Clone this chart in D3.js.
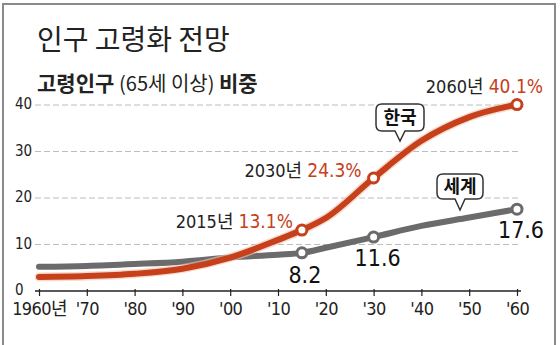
<!DOCTYPE html>
<html><head><meta charset="utf-8">
<script src="https://cdn.jsdelivr.net/npm/d3@7"></script>
<style>
body{margin:0;background:#fff;}
svg{display:block;}
text{font-family:"Liberation Sans Narrow","DejaVu Sans Condensed","Liberation Sans","Noto Sans CJK KR",sans-serif;}
</style></head>
<body>
<script>
const years = [1960,1970,1980,1990,2000,2010,2015,2020,2030,2040,2050,2060];
const korea = [3.0,3.2,3.7,4.8,7.2,11.0,13.1,15.7,24.3,32.3,37.4,40.1];
const world = [5.2,5.4,5.8,6.3,7.2,7.8,8.2,9.3,11.6,14.0,15.8,17.6];
const xTicks = [1960,1970,1980,1990,2000,2010,2020,2030,2040,2050,2060];
const xTickLabels = ["1960년","'70","'80","'90","'00","'10","'20","'30","'40","'50","'60"];
const yTicks = [0,10,20,30,40];
const markedYears = [2015,2030,2060];
const koreaLabels = [{year:2015,lab:"2015년 ",val:"13.1%"},{year:2030,lab:"2030년 ",val:"24.3%"},{year:2060,lab:"2060년 ",val:"40.1%"}];
const worldLabels = [{year:2015,val:"8.2"},{year:2030,val:"11.6"},{year:2060,val:"17.6"}];
const title = "인구 고령화 전망";

const W=560,H=345;
const RED="#c5401b", GRAY="#6b6b6e";
const NUMF="font-family:'Liberation Sans Narrow','DejaVu Sans Condensed','Liberation Sans','Noto Sans CJK KR',sans-serif;";
const svg=d3.select("body").append("svg").attr("width",W).attr("height",H);

// frame
svg.append("path").attr("d","M3,345 V4 H555 V345").attr("fill","none").attr("stroke","#8a8a8a").attr("stroke-width",2);

const x=d3.scaleLinear().domain([1960,2060]).range([39,517]);
const y=d3.scaleLinear().domain([0,40]).range([291,105]);

// title
svg.append("text").attr("x",37).attr("y",50).attr("font-size",28).attr("fill","#222").attr("style","font-family:'Noto Sans CJK KR';font-weight:400").text(title);
const st=svg.append("text").attr("x",37).attr("y",91).attr("fill","#222");
st.append("tspan").attr("style","font-family:'Noto Sans CJK KR';font-weight:700;font-size:21px").text("고령인구 ");
st.append("tspan").attr("style","font-family:'Noto Sans CJK KR';font-weight:400;font-size:20px").text("(65세 이상) ");
st.append("tspan").attr("style","font-family:'Noto Sans CJK KR';font-weight:700;font-size:21px").text("비중");

// gridlines
svg.append("g").selectAll("line").data(yTicks.filter(d=>d>0)).join("line")
  .attr("x1",35).attr("x2",521).attr("y1",d=>y(d)).attr("y2",d=>y(d))
  .attr("stroke","#bdbdbd").attr("stroke-width",1.2).attr("stroke-dasharray","6,3");
// y labels
svg.append("g").selectAll("text").data(yTicks).join("text")
  .attr("x",15).attr("y",d=>y(d)+4).attr("font-size",15).attr("fill","#222").attr("style",NUMF).text(d=>d);

// x axis
const xAxis=d3.axisBottom(x).tickValues(xTicks).tickSize(5).tickFormat((d,i)=>xTickLabels[i]);
const gx=svg.append("g").attr("transform","translate(0,291)").call(xAxis);
gx.select(".domain").attr("d","M35,0H521").attr("stroke","#222").attr("stroke-width",1.6);
gx.selectAll(".tick line").attr("stroke","#222").attr("stroke-width",1.2).attr("y1",-2);
gx.selectAll(".tick text").attr("fill","#222").attr("dy","0.9em")
  .attr("style",NUMF+"font-size:18px;letter-spacing:-0.6px");

const line=d3.line().x(d=>x(d[0])).y(d=>y(d[1])).curve(d3.curveMonotoneX);
const kData=years.map((yr,i)=>[yr,korea[i]]);
const wData=years.map((yr,i)=>[yr,world[i]]);

svg.append("path").attr("d",line(wData)).attr("fill","none").attr("stroke",GRAY).attr("stroke-width",6).attr("stroke-linecap","round");
svg.append("path").attr("d",line(kData)).attr("fill","none").attr("stroke","#f2c3ad").attr("stroke-width",9).attr("stroke-linecap","round").attr("opacity",0.6);
svg.append("path").attr("d",line(kData)).attr("fill","none").attr("stroke",RED).attr("stroke-width",6).attr("stroke-linecap","round");

// markers
svg.append("g").selectAll("circle").data(wData.filter(d=>markedYears.includes(d[0]))).join("circle")
  .attr("cx",d=>x(d[0])).attr("cy",d=>y(d[1])).attr("r",5).attr("fill","#fff").attr("stroke",GRAY).attr("stroke-width",3);
svg.append("g").selectAll("circle").data(kData.filter(d=>markedYears.includes(d[0]))).join("circle")
  .attr("cx",d=>x(d[0])).attr("cy",d=>y(d[1])).attr("r",5).attr("fill","#fff").attr("stroke",RED).attr("stroke-width",3);

// Korea labels
const kOff={2015:[-9,-2],2030:[-12,-1],2060:[26,-12]};
koreaLabels.forEach(l=>{
  const v=korea[years.indexOf(l.year)];
  const t=svg.append("text").attr("x",x(l.year)+kOff[l.year][0]).attr("y",y(v)+kOff[l.year][1])
    .attr("text-anchor","end").attr("style",NUMF+"font-size:19px");
  t.append("tspan").attr("fill","#222").attr("font-size",18).text(l.lab);
  t.append("tspan").attr("fill",RED).text(l.val);
});
// world labels
const wOff={2015:[3,30],2030:[4,29],2060:[4,29]};
worldLabels.forEach(l=>{
  const v=world[years.indexOf(l.year)];
  svg.append("text").attr("x",x(l.year)+wOff[l.year][0]).attr("y",y(v)+wOff[l.year][1])
    .attr("text-anchor","middle").attr("style",NUMF+"font-size:23px").attr("fill","#111").text(l.val);
});

// callouts
function bubble(cx,top,w,h,tipY,txt){
  const l=cx-w/2,r=cx+w/2,b=top+h,rr=6;
  const d=`M${l+rr},${top}H${r-rr}Q${r},${top} ${r},${top+rr}V${b-rr}Q${r},${b} ${r-rr},${b}H${cx+5}L${cx},${tipY}L${cx-5},${b}H${l+rr}Q${l},${b} ${l},${b-rr}V${top+rr}Q${l},${top} ${l+rr},${top}Z`;
  svg.append("path").attr("d",d).attr("fill","#fff").attr("stroke","#333").attr("stroke-width",1.5);
  svg.append("text").attr("x",cx).attr("y",top+h/2+6).attr("text-anchor","middle")
    .attr("style","font-family:'Noto Sans CJK KR';font-weight:700;font-size:18px").attr("fill","#111").text(txt);
}
bubble(400,104,48,27,141,"한국");
bubble(460,174,46,25,210,"세계");
</script>
</body></html>
